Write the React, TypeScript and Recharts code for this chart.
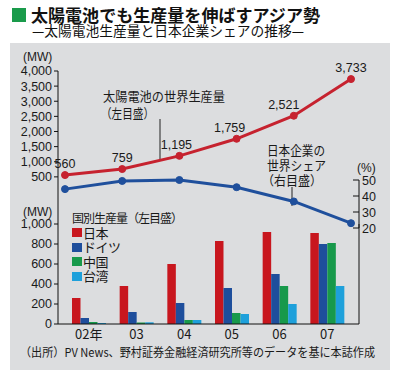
import React from 'react';
import { LineChart, Line, BarChart, Bar, XAxis, YAxis, LabelList, Legend } from 'recharts';

// ---- data ----
const years = ['02年', '03', '04', '05', '06', '07'];
const worldProduction = [560, 759, 1195, 1759, 2521, 3733];
const japanShare = [44.3, 49.4, 50, 45.5, 36.6, 23];
const japanMW = [260, 380, 600, 830, 920, 910];
const germanyMW = [60, 120, 210, 360, 500, 800];
const chinaMW = [20, 15, 40, 110, 380, 810];
const taiwanMW = [10, 17, 40, 100, 200, 380];
const topLeftTicks = [500, 1000, 1500, 2000, 2500, 3000, 3500, 4000];
const shareTicks = [20, 30, 40, 50];
const barTicks = [0, 200, 400, 600, 800, 1000];
const countryNames = ['日本', 'ドイツ', '中国', '台湾'];

// ---- style ----
const JP = "'Noto Sans CJK JP', 'Noto Sans CJK SC', sans-serif";
const NUM = "'Liberation Sans', Arial, sans-serif";
const RED_LINE = '#c6222f';
const BLUE_LINE = '#1f4f9c';
const C_JAPAN = '#c8161e';
const C_GERMANY = '#1e4e9c';
const C_CHINA = '#17994b';
const C_TAIWAN = '#1ea0db';
const BG = '#dcdddf';
const TXT = '#1a1a1a';
const LABEL_DX = [0, 0, -3, -7, -10, 0];

const topData = years.map((year, i) => ({ year, world: worldProduction[i], share: japanShare[i] }));
const barData = years.map((year, i) => ({
  year,
  japan: japanMW[i],
  germany: germanyMW[i],
  china: chinaMW[i],
  taiwan: taiwanMW[i],
}));

const fmt = (v: number) => Number(v).toLocaleString('en-US');
const XPAD = { left: 7, right: 8 };

const RightTick = (props: any) => {
  const { x, y, payload } = props;
  return (
    <g>
      <line x1={x - 9} x2={x - 3} y1={y} y2={y} stroke="#111" strokeWidth={1} />
      <text x={x} y={y} dy={4.5} textAnchor="start" fontSize={12.5} fontFamily={NUM} fill={TXT}>
        {payload.value}
      </text>
    </g>
  );
};

const WorldLabel = (props: any) => {
  const vb = props.viewBox || {};
  const px = props.x ?? vb.x;
  const py = props.y ?? vb.y;
  const idx = props.index ?? 0;
  return (
    <text x={px + (LABEL_DX[idx] || 0)} y={py - 7} textAnchor="middle" fontSize={12.5} fontFamily={NUM} fill={TXT}>
      {fmt(props.value)}
    </text>
  );
};

const LegendContent = (props: any) => {
  const payload = [...(props.payload || [])].sort(
    (a: any, b: any) => countryNames.indexOf(a.value) - countryNames.indexOf(b.value)
  );
  return (
    <div style={{ fontFamily: JP, color: TXT }}>
      <div style={{ fontSize: 12, letterSpacing: -1, lineHeight: '14.5px', height: 14.5, whiteSpace: 'nowrap' }}>国別生産量（左目盛）</div>
      {payload.map((p: any, i: number) => (
        <div key={i} style={{ display: 'flex', alignItems: 'center', height: 14.5, fontSize: 13, lineHeight: '14.5px', whiteSpace: 'nowrap' }}>
          <span style={{ display: 'inline-block', width: 10, height: 9, background: p.color, marginRight: 1 }} />
          <span style={{ letterSpacing: -0.5, lineHeight: '14.5px' }}>{p.value}</span>
        </div>
      ))}
    </div>
  );
};

export default function App() {
  return (
    <div style={{ position: 'relative', width: 400, height: 380, background: '#fff', overflow: 'hidden' }}>
      <style>{`body{margin:0}`}</style>
      {/* background & static text */}
      <svg width={400} height={380} style={{ position: 'absolute', left: 0, top: 0 }}>
        <rect x={10} y={43} width={380} height={327} fill={BG} />
        <rect x={12} y={8} width={14} height={14} fill="#1a9b4b" />
        <text x={31} y={21.5} fontSize={17} fontWeight="bold" fontFamily={JP} fill="#111" textLength={289} lengthAdjust="spacingAndGlyphs">
          太陽電池でも生産量を伸ばすアジア勢
        </text>
        <text x={32} y={35.5} fontSize={14} fontFamily={JP} fill="#111" textLength={272} lengthAdjust="spacingAndGlyphs">
          —太陽電池生産量と日本企業シェアの推移—
        </text>
        <text x={23} y={61} fontSize={12} fontFamily={NUM} fill={TXT}>(MW)</text>
        <text x={23} y={216} fontSize={12} fontFamily={NUM} fill={TXT}>(MW)</text>
        <text x={357} y={172} fontSize={12} fontFamily={NUM} fill={TXT}>(%)</text>
        <text x={103} y={100.5} fontSize={13} fontFamily={JP} fill={TXT} textLength={122} lengthAdjust="spacingAndGlyphs">太陽電池の世界生産量</text>
        <text x={101} y={117.5} fontSize={13} fontFamily={JP} fill={TXT} textLength={53} lengthAdjust="spacingAndGlyphs">（左目盛）</text>
        <line x1={160} x2={160} y1={119} y2={161} stroke="#222" strokeWidth={1} />
        <text x={267} y={154.5} fontSize={13} fontFamily={JP} fill={TXT} textLength={58} lengthAdjust="spacingAndGlyphs">日本企業の</text>
        <text x={267} y={169.5} fontSize={13} fontFamily={JP} fill={TXT} textLength={59} lengthAdjust="spacingAndGlyphs">世界シェア</text>
        <text x={262} y={184.5} fontSize={13} fontFamily={JP} fill={TXT} textLength={60} lengthAdjust="spacingAndGlyphs">（右目盛）</text>
        <line x1={292} x2={292} y1={187} y2={206} stroke="#222" strokeWidth={1} />
        <text x={20} y={357} fontSize={12} fontFamily={JP} fill={TXT} textLength={355} lengthAdjust="spacingAndGlyphs">
          （出所）PV News、野村証券金融経済研究所等のデータを基に本誌作成
        </text>
      </svg>

      {/* bar chart: production by country */}
      <div style={{ position: 'absolute', left: 0, top: 0 }}>
        <BarChart width={400} height={380} data={barData} margin={{ top: 224, right: 5, bottom: 26, left: 0 }} barGap={0}>
          <XAxis
            dataKey="year"
            padding={XPAD}
            tickLine={false}
            tickSize={0}
            tickMargin={6}
            axisLine={{ stroke: '#111' }}
            tick={{ fontSize: 13, fontFamily: JP, fill: TXT }}
            height={30}
            interval={0}
          />
          <YAxis
            yAxisId="l"
            width={58}
            domain={[0, 1000]}
            ticks={barTicks}
            tickFormatter={fmt}
            tickSize={4}
            tickMargin={2}
            axisLine={{ stroke: '#111' }}
            tickLine={{ stroke: '#111' }}
            tick={{ fontSize: 12.5, fontFamily: NUM, fill: TXT }}
            interval={0}
          />
          <YAxis yAxisId="r" orientation="right" width={36} tick={false} tickLine={false} axisLine={{ stroke: '#111' }} />
          <Legend
            layout="vertical"
            align="center"
            verticalAlign="middle"
            content={<LegendContent />}
            wrapperStyle={{ left: 72, top: 211, width: 'auto' }}
          />
          <Bar yAxisId="l" dataKey="japan" name={countryNames[0]} fill={C_JAPAN} barSize={8.5} isAnimationActive={false} />
          <Bar yAxisId="l" dataKey="germany" name={countryNames[1]} fill={C_GERMANY} barSize={8.5} isAnimationActive={false} />
          <Bar yAxisId="l" dataKey="china" name={countryNames[2]} fill={C_CHINA} barSize={8.5} isAnimationActive={false} />
          <Bar yAxisId="l" dataKey="taiwan" name={countryNames[3]} fill={C_TAIWAN} barSize={8.5} isAnimationActive={false} />
        </BarChart>
      </div>

      {/* world production (left axis) */}
      <div style={{ position: 'absolute', left: 0, top: 0 }}>
        <LineChart width={400} height={380} data={topData} margin={{ top: 71, right: 41, bottom: 156, left: 0 }}>
          <XAxis dataKey="year" hide padding={XPAD} />
          <YAxis
            width={58}
            domain={[-1058, 4000]}
            ticks={topLeftTicks}
            tickFormatter={fmt}
            tickSize={4}
            tickMargin={2}
            axisLine={{ stroke: '#111' }}
            tickLine={{ stroke: '#111' }}
            tick={{ fontSize: 12.5, fontFamily: NUM, fill: TXT }}
            interval={0}
          />
          <Line
            dataKey="world"
            stroke={RED_LINE}
            strokeWidth={3}
            dot={{ r: 3.5, fill: RED_LINE, stroke: RED_LINE, strokeWidth: 1 }}
            isAnimationActive={false}
          >
            <LabelList dataKey="world" content={<WorldLabel />} />
          </Line>
        </LineChart>
      </div>

      {/* Japanese share (right axis) */}
      <div style={{ position: 'absolute', left: 0, top: 0 }}>
        <LineChart width={400} height={380} data={topData} margin={{ top: 180, right: 5, bottom: 152, left: 58 }}>
          <XAxis dataKey="year" hide padding={XPAD} />
          <YAxis
            orientation="right"
            width={36}
            domain={[20, 50]}
            ticks={shareTicks}
            tickSize={0}
            tickMargin={3}
            tickLine={false}
            axisLine={{ stroke: '#111' }}
            tick={<RightTick />}
            interval={0}
          />
          <Line
            dataKey="share"
            stroke={BLUE_LINE}
            strokeWidth={3}
            dot={{ r: 3.5, fill: BLUE_LINE, stroke: BLUE_LINE, strokeWidth: 1 }}
            isAnimationActive={false}
          />
        </LineChart>
      </div>
    </div>
  );
}
